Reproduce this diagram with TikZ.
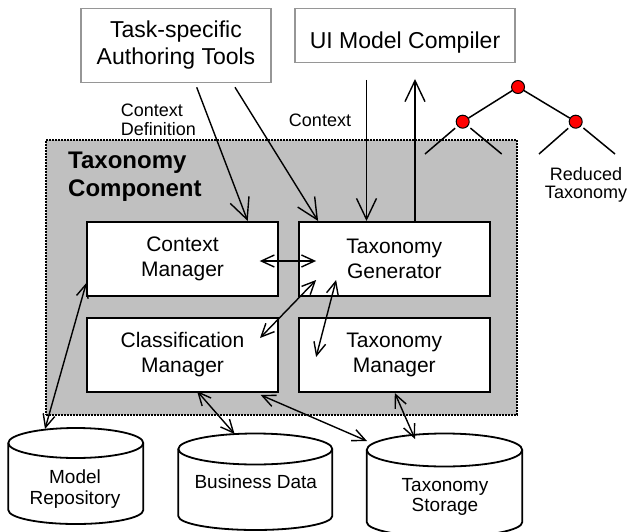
\documentclass[tikz,border=0pt]{standalone}
\usepackage{fontspec}
\setmainfont{Liberation Sans}
\usetikzlibrary{arrows.meta}
\definecolor{regiongray}{RGB}{192,192,192}
\definecolor{boxgray}{RGB}{150,150,150}
\definecolor{nodered}{RGB}{255,0,0}
\begin{document}
\begin{tikzpicture}[x=1pt,y=-1pt,
  topbox/.style={draw=boxgray, line width=1.5pt, fill=white, inner sep=0pt, align=center, font=\fontsize{23}{26.7}\selectfont},
  innerbox/.style={draw=black, line width=2pt, fill=white, minimum width=190.4pt, minimum height=74pt, inner sep=0pt, align=center, font=\fontsize{21}{25}\selectfont},
  bigarrow/.style={line width=1.4pt, -{Straight Barb[length=21pt,width=20pt,line width=1.4pt]}},
  conn/.style={line width=1.4pt, {Straight Barb[length=13pt,width=12pt,line width=1.4pt]}-{Straight Barb[length=13pt,width=12pt,line width=1.4pt]}},
  lbl/.style={inner sep=0pt, font=\fontsize{18}{19.3}\selectfont},
  cyllbl/.style={inner sep=0pt, align=center, font=\fontsize{19}{21}\selectfont},
  treenode/.style={circle, draw=black, line width=1pt, fill=nodered, minimum size=13pt, inner sep=0pt},
  treeedge/.style={line width=1.5pt},
  cyl/.style={draw=black, line width=1.8pt, fill=white},
  cylfront/.style={draw=black, line width=1.8pt},
]
\useasboundingbox (0,0) rectangle (631,532);

% component region
\node[draw=black, fill=regiongray, line width=2pt, dash pattern=on 2pt off 1pt,
      minimum width=471pt, minimum height=275pt, inner sep=0pt] (comp) at (281.5,277.5) {};
\node[anchor=west, inner sep=0pt, align=left, font=\fontsize{24}{28}\selectfont\bfseries] (comptitle) at (68,176.8) {Taxonomy\\Component};

% top boxes
\node[topbox, minimum width=190pt, minimum height=74pt] (task) at (176,45.3) {Task-specific\\Authoring Tools};
\node[topbox, minimum width=220pt, minimum height=54pt, text height=28pt, text depth=2pt] (ui) at (405,35.3) {UI Model Compiler};

% inner boxes
\node[innerbox] (cm)  at (182.5,259) {Context\\Manager};
\node[innerbox] (tg)  at (394.3,259) {Taxonomy\\Generator};
\node[innerbox] (clm) at (182.5,355) {Classification\\Manager};
\node[innerbox] (tm)  at (394.3,355) {Taxonomy\\Manager};

% cylinders
\draw[cyl] (8.3,443) -- (8.3,510) arc[start angle=180, end angle=360, x radius=67.5pt, y radius=14pt]
  -- (143.3,443) arc[start angle=0, end angle=180, x radius=67.5pt, y radius=15pt] -- cycle;
\draw[cylfront] (8.3,443) arc[start angle=180, end angle=360, x radius=67.5pt, y radius=15pt];
\draw[cyl] (178.3,449) -- (178.3,516) arc[start angle=180, end angle=360, x radius=77pt, y radius=14pt]
  -- (332.3,449) arc[start angle=0, end angle=180, x radius=77pt, y radius=15.5pt] -- cycle;
\draw[cylfront] (178.3,449) arc[start angle=180, end angle=360, x radius=77pt, y radius=15.5pt];
\draw[cyl] (366.7,450) -- (366.7,522) arc[start angle=180, end angle=360, x radius=77.8pt, y radius=15pt]
  -- (522.3,450) arc[start angle=0, end angle=180, x radius=77.8pt, y radius=16.5pt] -- cycle;
\draw[cylfront] (366.7,450) arc[start angle=180, end angle=360, x radius=77.8pt, y radius=16.5pt];

\node[cyllbl, font=\fontsize{19}{21.7}\selectfont] (mr) at (75,489.2) {Model\\Repository};
\node[cyllbl, anchor=base] (bd) at (255.8,488) {Business Data};
\node[cyllbl, font=\fontsize{19}{20}\selectfont] (ts) at (445,496.7) {Taxonomy\\Storage};

% tree
\node[treenode] (r)  at (518,87) {};
\node[treenode] (rl) at (462.7,121.7) {};
\node[treenode] (rr) at (575.7,121.7) {};
\coordinate (l1) at (425,154);
\coordinate (l2) at (501.7,154);
\coordinate (l3) at (539,154);
\coordinate (l4) at (615,154);
\draw[treeedge] (r) -- (rl);
\draw[treeedge] (r) -- (rr);
\draw[treeedge, shorten <=3pt] (rl) -- (l1);
\draw[treeedge, shorten <=3pt] (rl) -- (l2);
\draw[treeedge, shorten <=3pt] (rr) -- (l3);
\draw[treeedge, shorten <=3pt] (rr) -- (l4);
\node[lbl, align=center, font=\fontsize{18}{18.3}\selectfont] (red) at (586,184.6) {Reduced\\Taxonomy};

% labels
\node[lbl, anchor=west, align=left] (cdef) at (120.7,119.8) {Context\\Definition};
\node[lbl, anchor=base] (ctx) at (320,126) {Context};

% free ends
\coordinate (t1) at (196.7,87.3);
\coordinate (t2) at (235,87.3);
\coordinate (c1) at (366.5,80);
\coordinate (u1) at (415,79);
\coordinate (mrtop) at (45,429);
\coordinate (bdtop) at (234.6,434);
\coordinate (tsleft) at (367,441);
\coordinate (tstop) at (415,439);

% arrows
\draw[bigarrow] (t1) -- ([xshift=-31pt]cm.north east);
\draw[bigarrow] (t2) -- ([xshift=20pt]tg.north west);
\draw[bigarrow] (c1) -- (c1 |- tg.north);
\draw[bigarrow] (u1 |- tg.north) -- (u1);

\draw[conn] ([shift={(-19,2)}]cm.east) -- ([shift={(18,2)}]tg.west);
\draw[conn] ([shift={(-18.7,-17)}]clm.east) -- ([shift={(18,-17)}]tg.south west);
\draw[conn] ([shift={(18,2)}]tm.west) -- ([shift={(38,-17)}]tg.south west);
\draw[conn] (mrtop) -- ([shift={(0,-14)}]cm.south west);
\draw[conn] ([shift={(14.5,-2)}]clm.south) -- (bdtop);
\draw[conn] ([shift={(-18,2)}]clm.south east) -- (tsleft);
\draw[conn] ([shift={(0.5,0)}]tm.south) -- (tstop);
\end{tikzpicture}
\end{document}
